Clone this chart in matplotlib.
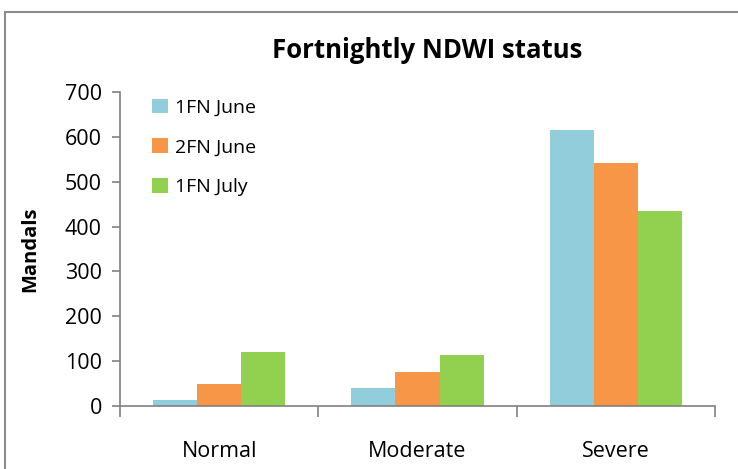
import numpy as np
import matplotlib.pyplot as plt
from matplotlib.patches import Rectangle

categories = ['Normal', 'Moderate', 'Severe']
series_names = ['1FN June', '2FN June', '1FN July']
# per series, across categories
fn1_june = [13, 40, 615]
fn2_june = [50, 76, 541]
fn1_july = [121, 114, 435]
colors = ['#92CDDC', '#F79646', '#92D050']

plt.rcParams['font.family'] = ['Open Sans', 'DejaVu Sans']

fig = plt.figure(figsize=(7.38, 4.69), dpi=100)
ax = fig.add_axes([120/738, 63/469, 595/738, 314/469])

# outer chart border (gray frame)
fig.patches.append(Rectangle((5/738, -0.1), 1.2, (469-12)/469 + 0.1, transform=fig.transFigure,
                             fill=False, edgecolor='#8c8c8c', linewidth=1.5))

x = np.arange(len(categories))
w = 0.222
for i, (name, vals) in enumerate(zip(series_names, [fn1_june, fn2_june, fn1_july])):
    ax.bar(x + (i - 1) * w, vals, width=w, color=colors[i], label=name)

ax.set_xlim(-0.5, 2.5)
ax.set_ylim(0, 700)
ax.set_yticks(range(0, 701, 100))
ax.set_xticks([-0.5, 0.5, 1.5, 2.5])
ax.set_xticklabels([])
ax.set_xticks(x, minor=True)
ax.set_xticklabels(categories, minor=True, fontsize=15.5)
ax.tick_params(axis='x', which='minor', length=0, pad=25)
ax.tick_params(axis='x', which='major', length=8, color='#808080', width=1.2)
ax.tick_params(axis='y', length=6, color='#808080', width=1.2, labelsize=15.5, pad=7)

for s in ['top', 'right']:
    ax.spines[s].set_visible(False)
for s in ['left', 'bottom']:
    ax.spines[s].set_color('#808080')
    ax.spines[s].set_linewidth(1.2)

ax.set_ylabel('Mandals', fontsize=14.5, fontweight='bold', labelpad=18)
fig.text(427/738, 1 - 50/469, 'Fortnightly NDWI status', fontsize=18.5, fontweight='bold',
         ha='center', va='center')

ax.legend(loc='upper left', bbox_to_anchor=(0.025, 1.035), frameon=False, fontsize=14,
          handlelength=0.8, handleheight=0.8, handletextpad=0.35, labelspacing=1.1)

fig.savefig('out.png', dpi=100)
